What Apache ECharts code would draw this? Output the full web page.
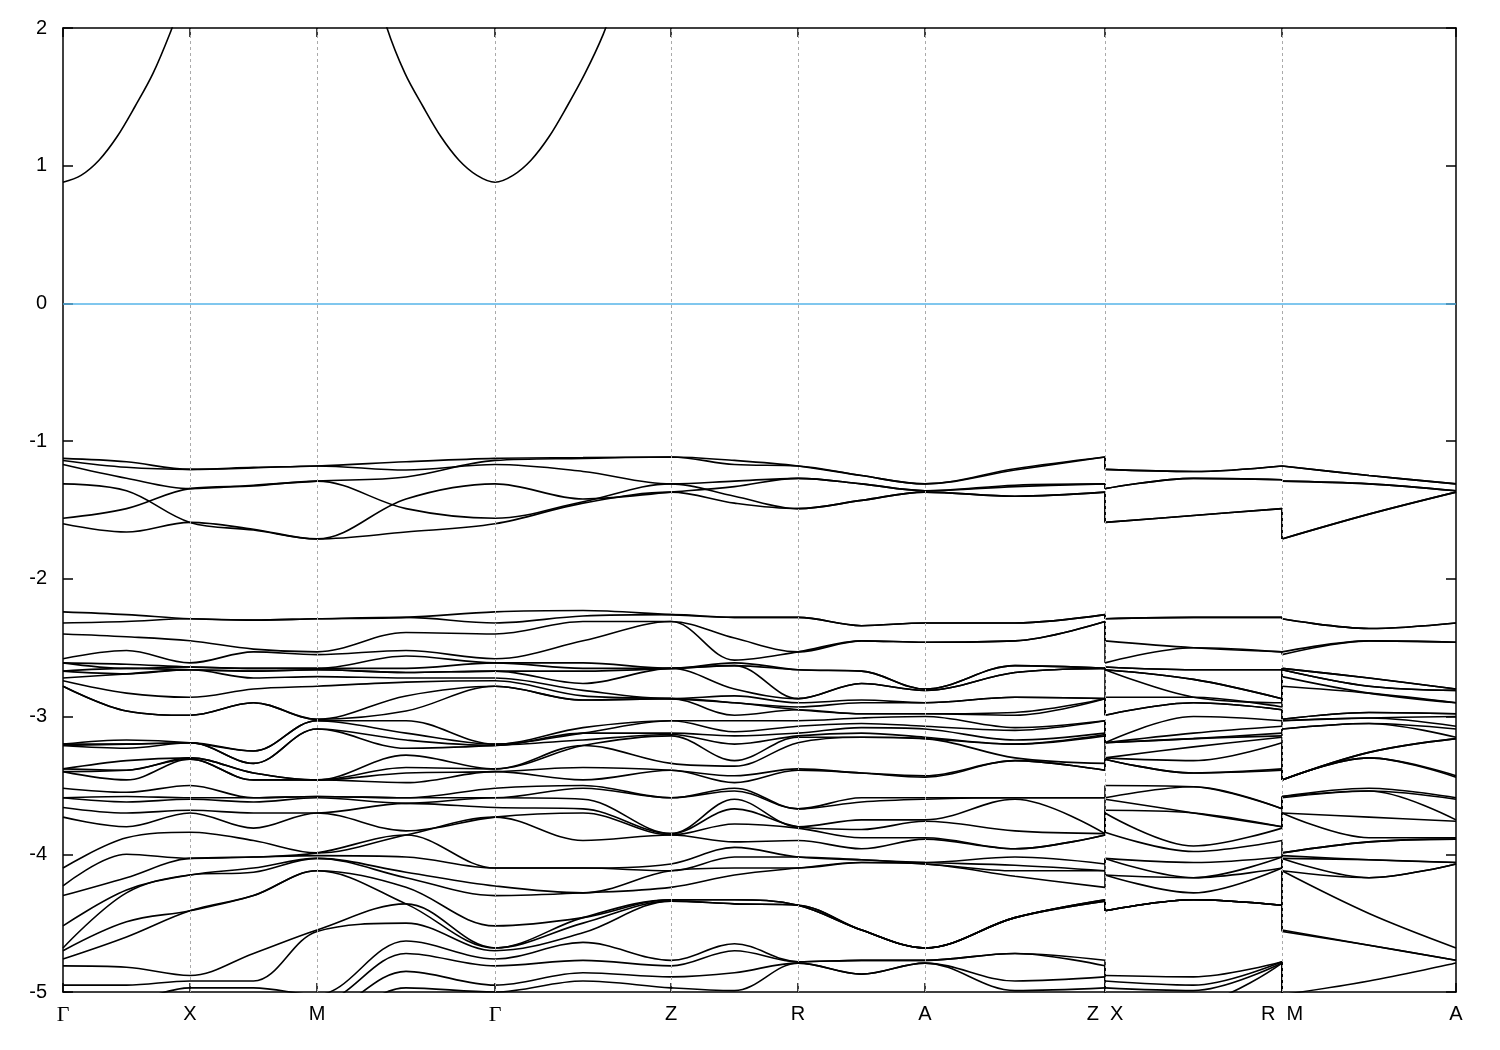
<!DOCTYPE html>
<html><head><meta charset="utf-8">
<script src="https://cdn.jsdelivr.net/npm/echarts@6/dist/echarts.min.js"></script>
<style>html,body{margin:0;padding:0;background:#fff}#c{width:1500px;height:1050px}</style>
</head><body><div id="c"></div>
<script>
// high-symmetry points along the path (path-length units)
const symK = [0, 127, 254, 432, 608, 735, 862, 1042, 1219, 1393];
const symLabels = ['Γ', 'X', 'M', 'Γ', 'Z', 'R', 'A', 'Z  X', 'R  M', 'A'];
const gridK = [127, 254, 432, 608, 735, 862, 1042, 1219];

// sampling k of the three path pieces
const kPath = [0, 63.5, 127, 190.5, 254, 343, 432, 520, 608, 671.5, 735, 798.5, 862, 952, 1042];
const kXR = [1042, 1130.5, 1219];
const kMA = [1219, 1306, 1393];

// conduction band (eV)
const cbK = [0, 18, 36, 54, 72, 90, 108, 127, 190, 254, 300, 324, 342, 360, 378, 396, 414, 432, 450, 468, 486, 504, 522, 540, 558, 608];
const cbE = [0.88, 0.93, 1.04, 1.21, 1.43, 1.67, 1.98, 2.35, 2.9, 3.1, 2.6, 2.0, 1.67, 1.43, 1.21, 1.04, 0.93, 0.88, 0.93, 1.04, 1.21, 1.43, 1.67, 1.95, 2.3, 3.0];

// top valence group, tracked along Γ-X-M-Γ-Z-R-A-Z (eV)
const top1 = [-1.125, -1.15, -1.205, -1.19, -1.18, -1.15, -1.125, -1.12, -1.115, -1.14, -1.18, -1.25, -1.31, -1.20, -1.115];
const top2 = [-1.14, -1.19, -1.205, -1.195, -1.18, -1.21, -1.17, -1.22, -1.31, -1.29, -1.27, -1.31, -1.36, -1.32, -1.31];
const top3 = [-1.17, -1.27, -1.345, -1.32, -1.29, -1.26, -1.14, -1.125, -1.115, -1.17, -1.18, -1.25, -1.31, -1.21, -1.115];
const top4 = [-1.31, -1.36, -1.59, -1.645, -1.71, -1.42, -1.31, -1.42, -1.37, -1.33, -1.27, -1.31, -1.36, -1.33, -1.31];
const top5 = [-1.56, -1.49, -1.345, -1.325, -1.29, -1.49, -1.56, -1.44, -1.31, -1.40, -1.49, -1.43, -1.37, -1.40, -1.37];
const top6 = [-1.60, -1.66, -1.59, -1.64, -1.71, -1.66, -1.60, -1.45, -1.37, -1.45, -1.49, -1.43, -1.37, -1.40, -1.37];
// top group on X-R and M-A (sorted)
const topX   = [-1.205, -1.205, -1.345, -1.345, -1.59, -1.59];
const topXRm = [-1.22, -1.22, -1.27, -1.27, -1.54, -1.54];
const topR   = [-1.18, -1.18, -1.28, -1.28, -1.49, -1.49];
const topM   = [-1.18, -1.18, -1.29, -1.29, -1.71, -1.71];
const topMAm = [-1.25, -1.25, -1.31, -1.31, -1.53, -1.53];
const topA   = [-1.31, -1.31, -1.36, -1.36, -1.37, -1.37];

// lower valence manifold: energies at each sampled k, sorted, degenerate levels repeated (eV)
const colG0 = [-2.24,-2.32,-2.40,-2.58, -2.61,-2.61,-2.67,-2.67,-2.72,-2.74,-2.78,-2.78, -3.20,-3.20,-3.21,-3.21,-3.38,-3.38,-3.40,-3.40, -3.52,-3.59,-3.59,-3.66,-3.73,-4.10,-4.23,-4.30,-4.52,-4.68,-4.70,-4.76,-4.81,-4.95,-5.00,-5.06,-5.12,-5.18,-5.24,-5.30];
const colG  = [-2.24,-2.32,-2.40,-2.58, -2.61,-2.61,-2.67,-2.67,-2.72,-2.74,-2.78,-2.78, -3.20,-3.20,-3.21,-3.21,-3.38,-3.38,-3.40,-3.40, -3.52,-3.59,-3.59,-3.66,-3.73,-3.73, -4.10,-4.10,-4.23,-4.30, -4.52,-4.68,-4.68,-4.70, -4.76,-4.81,-4.95,-5.00,-5.06,-5.12];
const colGX = [-2.26,-2.31,-2.42,-2.52, -2.62,-2.65,-2.65,-2.69,-2.69,-2.83,-2.96,-2.96, -3.17,-3.20,-3.20,-3.23,-3.32,-3.39,-3.39,-3.46, -3.55,-3.58,-3.62,-3.70,-3.80,-3.88,-4.00,-4.17,-4.26,-4.28,-4.49,-4.60,-4.82,-4.95,-5.06,-5.12,-5.18,-5.24,-5.30,-5.36];
const colX  = [-2.29,-2.29,-2.45,-2.61, -2.64,-2.64,-2.66,-2.66,-2.66,-2.86,-2.99,-2.99, -3.19,-3.19,-3.19,-3.19,-3.30,-3.30,-3.31,-3.31, -3.50,-3.59,-3.60,-3.68,-3.70,-3.84, -4.03,-4.03,-4.15,-4.15,-4.41,-4.41, -4.88,-4.92,-4.97,-5.08,-5.16,-5.24,-5.32,-5.40];
const colX2 = [-2.29,-2.29,-2.45,-2.61, -2.64,-2.64,-2.66,-2.66,-2.66,-2.86,-2.99,-2.99, -3.19,-3.19,-3.19,-3.19,-3.30,-3.30,-3.31,-3.31, -3.50,-3.59,-3.60,-3.68,-3.70,-3.84, -4.03,-4.03,-4.15,-4.15, -4.41,-4.41,-4.41,-4.41, -4.88,-4.92,-4.97,-5.08,-5.16,-5.24];
const colXM = [-2.30,-2.30,-2.51,-2.53, -2.65,-2.65,-2.67,-2.67,-2.72,-2.80,-2.90,-2.90, -3.25,-3.25,-3.34,-3.34,-3.41,-3.41,-3.46,-3.46, -3.59,-3.59,-3.62,-3.70,-3.81,-3.90, -4.02,-4.02,-4.10,-4.13,-4.30,-4.30, -4.72,-4.92,-4.97,-5.08,-5.16,-5.24,-5.32,-5.40];
const colM  = [-2.29,-2.29,-2.53,-2.55, -2.65,-2.65,-2.66,-2.66,-2.71,-2.78,-3.02,-3.02, -3.03,-3.03,-3.09,-3.09,-3.46,-3.46,-3.46,-3.46, -3.58,-3.58,-3.59,-3.70,-3.70,-3.99,-3.99, -4.01,-4.03,-4.03,-4.12,-4.12, -4.55,-4.56,-5.02,-5.08,-5.16,-5.24,-5.32,-5.40];
const colMG = [-2.28,-2.28,-2.39,-2.52, -2.56,-2.65,-2.68,-2.68,-2.72,-2.75,-2.85,-2.96, -3.03,-3.12,-3.17,-3.23,-3.28,-3.37,-3.41,-3.48, -3.59,-3.59,-3.63,-3.63,-3.83,-3.86,-3.86, -4.02,-4.13,-4.17,-4.24,-4.36,-4.36, -4.50,-4.63,-4.72,-4.85,-4.97,-5.08,-5.16];
const colGZ = [-2.23,-2.27,-2.31,-2.45, -2.61,-2.65,-2.67,-2.76,-2.81,-2.85,-2.88,-2.88, -3.08,-3.12,-3.12,-3.17,-3.21,-3.21,-3.37,-3.46, -3.50,-3.52,-3.60,-3.67,-3.70,-3.90, -4.10,-4.10,-4.28,-4.28, -4.46,-4.46,-4.50,-4.57, -4.64,-4.77,-4.86,-4.92,-5.08,-5.16];
const colZ  = [-2.26,-2.26,-2.31,-2.31, -2.65,-2.65,-2.65,-2.65,-2.87,-2.87,-2.87,-2.87, -3.03,-3.03,-3.12,-3.13,-3.14,-3.34,-3.39,-3.39, -3.59,-3.59,-3.85,-3.85,-3.86,-3.86, -4.07,-4.12,-4.12,-4.24, -4.33,-4.33,-4.34,-4.34, -4.77,-4.81,-4.89,-4.97,-5.08,-5.16];
const colZR = [-2.28,-2.28,-2.43,-2.59, -2.61,-2.63,-2.63,-2.80,-2.85,-2.90,-2.90,-2.99, -3.03,-3.11,-3.14,-3.20,-3.32,-3.36,-3.43,-3.48, -3.52,-3.54,-3.60,-3.67,-3.78,-3.91,-3.95, -4.02,-4.10,-4.15, -4.33,-4.33,-4.36,-4.36, -4.65,-4.70,-4.86,-4.99,-5.08,-5.16];
const colR  = [-2.28,-2.28,-2.53,-2.53, -2.66,-2.66,-2.87,-2.87,-2.90,-2.93,-2.95,-2.95, -3.03,-3.07,-3.12,-3.14,-3.15,-3.19,-3.38,-3.39, -3.67,-3.67,-3.80,-3.80,-3.81,-3.90, -4.02,-4.02,-4.10,-4.10, -4.37,-4.37,-4.37,-4.37, -4.78,-4.78,-4.79,-4.79,-5.08,-5.16];
const colRA = [-2.34,-2.34,-2.45,-2.45, -2.67,-2.67,-2.76,-2.76,-2.88,-2.90,-2.98,-2.98, -3.01,-3.05,-3.08,-3.12,-3.15,-3.15,-3.41,-3.41, -3.59,-3.62,-3.75,-3.82,-3.88,-3.96, -4.04,-4.04,-4.06,-4.06, -4.55,-4.55,-4.55,-4.55, -4.77,-4.77,-4.87,-4.87,-5.08,-5.16];
const colA  = [-2.32,-2.32,-2.46,-2.46, -2.80,-2.80,-2.81,-2.81,-2.90,-2.90,-2.98,-2.98, -3.00,-3.07,-3.09,-3.15,-3.16,-3.16,-3.43,-3.44, -3.59,-3.60,-3.75,-3.76,-3.88,-3.89, -4.06,-4.06,-4.07,-4.07, -4.68,-4.68,-4.68,-4.68, -4.77,-4.77,-4.79,-4.79,-5.08,-5.16];
const colA2 = [-2.32,-2.32,-2.46,-2.46, -2.80,-2.80,-2.81,-2.81,-2.90,-2.90,-2.98,-2.98, -3.00,-3.07,-3.09,-3.15,-3.16,-3.16,-3.43,-3.44, -3.59,-3.60,-3.75,-3.76,-3.88,-3.89,-3.89, -4.06,-4.06,-4.07,-4.07, -4.68,-4.77,-4.77,-4.79, -5.08,-5.16,-5.24,-5.32,-5.40];
const colAZ = [-2.32,-2.32,-2.45,-2.45, -2.63,-2.63,-2.68,-2.68,-2.86,-2.86,-2.97,-2.99, -3.08,-3.10,-3.17,-3.20,-3.20,-3.30,-3.32,-3.32, -3.59,-3.59,-3.60,-3.83,-3.96,-3.96, -4.02,-4.08,-4.12,-4.16, -4.46,-4.46,-4.46,-4.46, -4.72,-4.72,-4.92,-4.99,-5.08,-5.16];
const colXR = [-2.28,-2.28,-2.50,-2.50, -2.66,-2.66,-2.73,-2.73,-2.86,-2.86,-2.90,-2.90, -3.00,-3.12,-3.16,-3.16,-3.22,-3.32,-3.41,-3.41, -3.51,-3.51,-3.70,-3.70,-3.94,-3.98, -4.06,-4.17,-4.17,-4.28, -4.33,-4.33,-4.33,-4.33, -4.89,-4.95,-4.99,-5.08,-5.16,-5.24];
const colMA = [-2.36,-2.36,-2.45,-2.45, -2.72,-2.72,-2.78,-2.78,-2.83,-2.83,-2.97,-2.97, -3.01,-3.01,-3.05,-3.05,-3.26,-3.26,-3.30,-3.30, -3.52,-3.54,-3.54,-3.73,-3.88,-3.91,-3.91, -4.04,-4.04,-4.17,-4.17, -4.43,-4.66,-4.66,-4.92, -5.08,-5.16,-5.24,-5.32,-5.40];

const pathCols = [colG0, colGX, colX, colXM, colM, colMG, colG, colGZ, colZ, colZR, colR, colRA, colA, colAZ, colZ];
const xrCols = [colX2, colXR, colR];
const maCols = [colM, colMA, colA2];

const BAND = { color: '#000', width: 1.6 };
function band(data, smooth) {
  return { type: 'line', data: data, smooth: smooth ? 0.35 : false, symbol: 'none', silent: true,
           lineStyle: BAND, z: 3, animation: false, clip: true };
}
const series = [];
// reference lines (zero level + vertical dashed lines)
series.push({
  type: 'line', data: [], symbol: 'none', silent: true, z: 1, animation: false,
  markLine: {
    symbol: 'none', silent: true, animation: false, label: { show: false },
    data: [
      { yAxis: 0, lineStyle: { color: '#56b4e9', width: 1.6, type: 'solid' } }
    ].concat(gridK.map(k => ({ xAxis: k, lineStyle: { color: '#aaaaaa', width: 1, type: [3, 3] } })))
  }
});
// conduction band
series.push(band(cbK.map((k, j) => [k, cbE[j]]), true));
// top group
const tops = [top1, top2, top3, top4, top5, top6];
tops.forEach(t => series.push(band(kPath.map((k, j) => [k, t[j]]), true)));
const topZend = tops.map(t => t[t.length - 1]).sort((a, b) => b - a);
const topXRc = [topX, topXRm, topR], topMAc = [topM, topMAm, topA];
for (let i = 0; i < 6; i++) {
  series.push(band(kXR.map((k, j) => [k, topXRc[j][i]]), true));
  series.push(band(kMA.map((k, j) => [k, topMAc[j][i]]), true));
  series.push(band([[1042, topZend[i]], [1042, topX[i]]], false));
  series.push(band([[1219, topR[i]], [1219, topM[i]]], false));
}
// lower manifold
for (let i = 0; i < colG.length; i++) {
  series.push(band(kPath.map((k, j) => [k, pathCols[j][i]]), true));
  series.push(band(kXR.map((k, j) => [k, xrCols[j][i]]), true));
  series.push(band(kMA.map((k, j) => [k, maCols[j][i]]), true));
  series.push(band([[1042, colZ[i]], [1042, colX2[i]]], false));
  series.push(band([[1219, colR[i]], [1219, colM[i]]], false));
}

const axisFont = { color: '#000', fontSize: 20, fontFamily: 'Liberation Sans' };
const frameLine = { show: true, onZero: false, lineStyle: { color: '#000', width: 1.5 } };
const option = {
  backgroundColor: '#fff',
  animation: false,
  grid: { left: 63, right: 44, top: 28, bottom: 58, containLabel: false },
  xAxis: [{
    type: 'value', min: 0, max: 1393, position: 'bottom',
    axisLine: frameLine,
    axisTick: { show: true, inside: true, length: 9, customValues: symK, lineStyle: { color: '#000', width: 1.5 } },
    axisLabel: {
      show: true, customValues: symK, margin: 12, ...axisFont,
      formatter: function (v) {
        const i = symK.indexOf(v);
        const s = i >= 0 ? symLabels[i] : '';
        return s === 'Γ' ? '{g|Γ}' : s;
      },
      rich: { g: { fontFamily: 'Liberation Serif', fontSize: 22, color: '#000' } }
    },
    splitLine: { show: false }
  }, {
    type: 'value', min: 0, max: 1393, position: 'top',
    axisLine: frameLine,
    axisTick: { show: true, inside: true, length: 9, customValues: symK, lineStyle: { color: '#000', width: 1.5 } },
    axisLabel: { show: false }, splitLine: { show: false }
  }],
  yAxis: [{
    type: 'value', min: -5, max: 2, interval: 1, position: 'left',
    axisLine: frameLine,
    axisTick: { show: true, inside: true, length: 10, lineStyle: { color: '#000', width: 1.5 } },
    axisLabel: { show: true, margin: 16, ...axisFont },
    splitLine: { show: false }
  }, {
    type: 'value', min: -5, max: 2, interval: 1, position: 'right',
    axisLine: frameLine,
    axisTick: { show: true, inside: true, length: 10, lineStyle: { color: '#000', width: 1.5 } },
    axisLabel: { show: false }, splitLine: { show: false }
  }],
  series: series
};
const chart = echarts.init(document.getElementById('c'), null, { renderer: 'canvas' });
chart.setOption(option);
</script>
</body></html>
